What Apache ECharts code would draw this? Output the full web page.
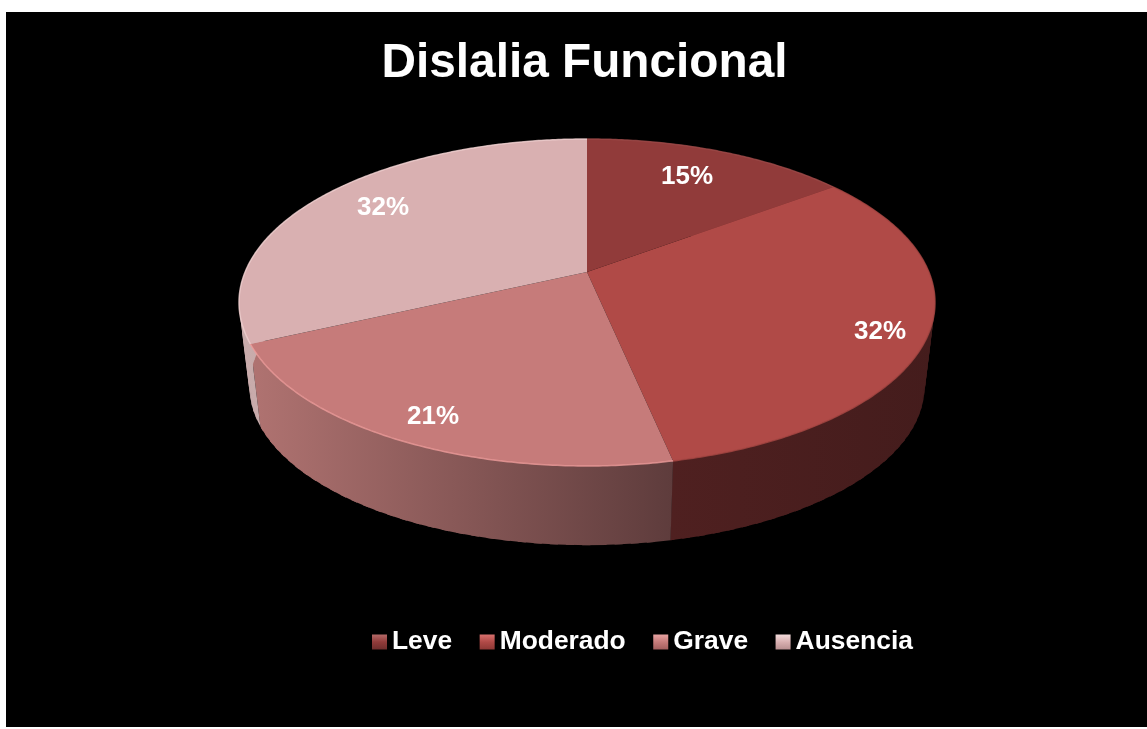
<!DOCTYPE html>
<html><head><meta charset="utf-8">
<style>html,body{margin:0;padding:0;background:#fff;overflow:hidden}#c{width:1147px;height:729px}</style>
<script src="https://cdn.jsdelivr.net/npm/echarts@6/dist/echarts.min.js"></script>
</head><body><div id="c"></div>
<script>
var categories = ['Leve','Moderado','Grave','Ausencia'];
var values = [14.8, 31.9, 21.4, 31.9];
var topColors = ['#913B3A','#B04A47','#C67B7A','#D9B0B1'];
var sideFrom = ['#6b2c2b','#4f2020','#B07371','#C9ACAC'];
var sideTo = ['#6b2c2b','#441c1c','#5E3C3C','#B89A9A'];
var rimColors = ['#9c4a49','#A84744','#EE9C9B','#EFD0D0'];
var legendLight = ['#B56A68','#D8716E','#E8A3A2','#F2DCDC'];
var legendDark = ['#6F2E2D','#8E3835','#A35F5E','#B88F90'];
var cx=587, cy=272, A=341.9, B=157.8, P=0.1865, depth=85, rimScale=0.97;

var total = values.reduce(function(a,b){return a+b;},0);
function proj(t,s,d){
  var u=Math.sin(t), v=-Math.cos(t), w=1-P*v;
  return [cx+s*A*u/w, cy+d+s*B*v/w];
}
function arc(a0,a1,s,d){
  var n=Math.max(2,Math.ceil((a1-a0)/0.01)), pts=[];
  for(var i=0;i<=n;i++) pts.push(proj(a0+(a1-a0)*i/n,s,d));
  return pts;
}
function range(i){
  var before=0; for(var k=0;k<i;k++) before+=values[k];
  return [before/total*2*Math.PI,(before+values[i])/total*2*Math.PI];
}
function render(i){
  return function(params,api){
    var r=range(i), a0=r[0], a1=r[1];
    var topArc=arc(a0,a1,1,0), botArc=arc(a0,a1,rimScale,depth);
    var xs=topArc.concat(botArc).map(function(p){return p[0];});
    var x0=Math.min.apply(null,xs), x1=Math.max.apply(null,xs);
    var fill=new echarts.graphic.LinearGradient(x0,0,x1,0,[{offset:0,color:sideFrom[i]},{offset:1,color:sideTo[i]}],true);
    var children=[];
    for(var k=0;k<topArc.length-1;k+=4){
      var e=Math.min(k+6,topArc.length-1);
      children.push({type:'polygon',z2:1,shape:{points:[topArc[k],topArc[e],botArc[e],botArc[k]]},style:{fill:fill}});
    }
    children.push({type:'polygon',z2:5,shape:{points:[[cx,cy]].concat(topArc)},style:{fill:topColors[i]}});
    children.push({type:'polyline',z2:6,shape:{points:topArc},style:{fill:null,stroke:rimColors[i],lineWidth:1.5,opacity:0.8}});
    return {type:'group',children:children};
  };
}
var labelPos=[[687,177],[880,332],[433,417],[383,208]];
var series=categories.map(function(name,i){
  return {type:'custom',name:name,coordinateSystem:'none',silent:true,animation:false,
    data:[[values[i]]],renderItem:render(i),itemStyle:{color:topColors[i]}};
});
var chart=echarts.init(document.getElementById('c'),null,{renderer:'canvas'});
var graphics=[{type:'rect',z:-10,shape:{x:6,y:12,width:1141,height:715},style:{fill:'#000'},silent:true}];
categories.forEach(function(n,i){
  graphics.push({type:'text',z:20,x:labelPos[i][0],y:labelPos[i][1],style:{text:Math.round(values[i])+'%',fill:'#fff',
    font:'bold 26px "Liberation Sans", Arial, sans-serif',align:'center',verticalAlign:'middle'},silent:true});
});
chart.setOption({
  animation:false,
  backgroundColor:'#fff',
  title:{text:'Dislalia Funcional',left:579.5,top:35,textAlign:'center',
    textStyle:{color:'#fff',fontSize:47.75,fontWeight:'bold',fontFamily:'"Liberation Sans", Arial, sans-serif'}},
  legend:{left:367,top:624,itemWidth:15,itemHeight:15,itemGap:27.5,icon:'rect',selectedMode:false,
    textStyle:{color:'#fff',fontSize:26.4,fontWeight:'bold',fontFamily:'"Liberation Sans", Arial, sans-serif'},
    data:categories.map(function(n,i){return {name:n,icon:'rect',itemStyle:{color:new echarts.graphic.LinearGradient(0,0,0,1,[{offset:0,color:legendLight[i]},{offset:0.5,color:topColors[i]},{offset:1,color:legendDark[i]}])}};})},
  graphic:graphics,
  series:series
});
</script></body></html>
